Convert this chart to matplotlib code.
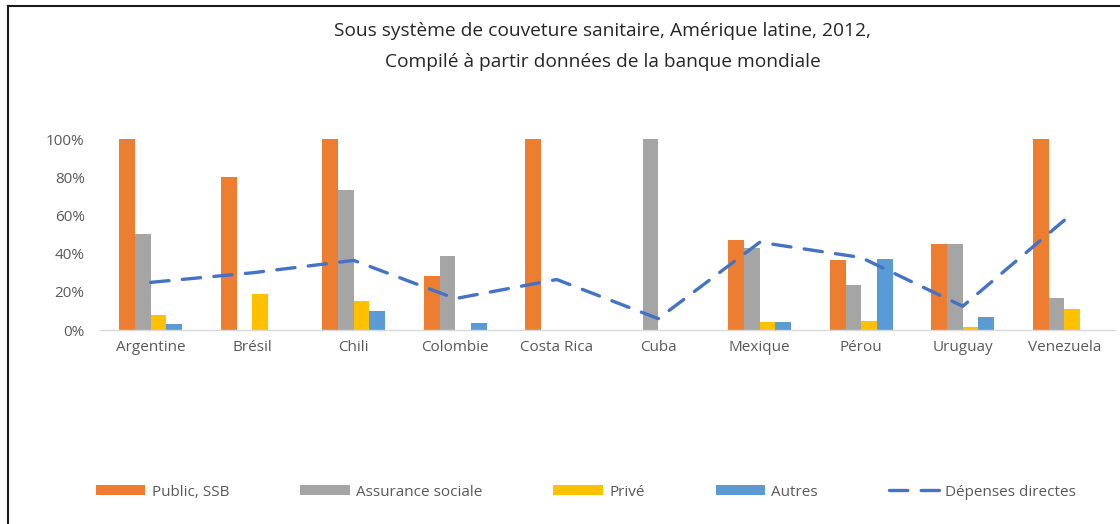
import matplotlib
matplotlib.use("Agg")
import matplotlib.pyplot as plt
import numpy as np
from matplotlib.lines import Line2D

plt.rcParams['font.family'] = ['Open Sans', 'DejaVu Sans']

pays = ['Argentine', 'Brésil', 'Chili', 'Colombie', 'Costa Rica',
        'Cuba', 'Mexique', 'Pérou', 'Uruguay', 'Venezuela']
public_ssb = [100, 80, 100, 28.5, 100, 0, 47, 36.5, 45, 100]
assurance_sociale = [50.5, 0, 73.5, 39, 0, 100, 43, 23.5, 45, 17]
prive = [8, 19, 15.5, 0, 0, 0, 4.5, 5, 1.5, 11]
autres = [3, 0, 10, 3.5, 0, 0, 4.5, 37, 7, 0]
depenses_directes = [25, 30, 36.5, 16.5, 26.5, 6, 46, 38, 12.5, 57.5]

series = [('Public, SSB', public_ssb, '#ED7D31'),
          ('Assurance sociale', assurance_sociale, '#A5A5A5'),
          ('Privé', prive, '#FFC000'),
          ('Autres', autres, '#5B9BD5')]

fig = plt.figure(figsize=(11.2, 5.24), dpi=100)
ax = fig.add_axes([100/1120, 0.370, 1015/1120, 0.3645])

x = np.arange(len(pays))
w = 0.155
handles = []
for i, (nom, vals, col) in enumerate(series):
    b = ax.bar(x + (i - 1.5) * w, np.array(vals) / 100, w, color=col, label=nom, zorder=2)
    handles.append(b)

ln, = ax.plot(x, np.array(depenses_directes) / 100, color='#4472C4', lw=2.4,
              dashes=(5.5, 4.0), dash_capstyle='round', label='Dépenses directes', zorder=3)
handles.append(ln)

ax.set_xlim(-0.5, len(pays) - 0.5)
ax.set_ylim(0, 1)
ax.set_yticks([0, 0.2, 0.4, 0.6, 0.8, 1.0])
ax.set_yticklabels(['0%', '20%', '40%', '60%', '80%', '100%'])
ax.set_xticks(x)
ax.set_xticklabels(pays)
for s in ['top', 'right', 'left']:
    ax.spines[s].set_visible(False)
ax.spines['bottom'].set_color('#D9D9D9')
ax.spines['bottom'].set_linewidth(1)
ax.tick_params(axis='both', length=0, colors='#595959', labelsize=11)
ax.tick_params(axis='y', pad=11)
ax.tick_params(axis='x', pad=7)

fig.text(0.538, 1 - 31/524, 'Sous système de couveture sanitaire, Amérique latine, 2012,',
         ha='center', va='center', fontsize=13.8, color='#262626')
fig.text(0.538, 1 - 62/524, 'Compilé à partir données de la banque mondiale',
         ha='center', va='center', fontsize=13.8, color='#262626')

leg = fig.legend(handles=handles, loc='center', bbox_to_anchor=(0.523, 1 - 492/524),
                 ncol=5, frameon=False, fontsize=11, handlelength=3.25, handleheight=0.65,
                 handletextpad=0.4, columnspacing=4.65, labelcolor='#595959')

# cadre
fig.add_artist(Line2D([7.5/1120, 7.5/1120], [0, 1 - 6/524], transform=fig.transFigure,
                      color='#1a1a1a', lw=1.5))
fig.add_artist(Line2D([7.5/1120, 1], [1 - 6/524, 1 - 6/524], transform=fig.transFigure,
                      color='#1a1a1a', lw=1.5))

fig.savefig('out.png', dpi=100)
